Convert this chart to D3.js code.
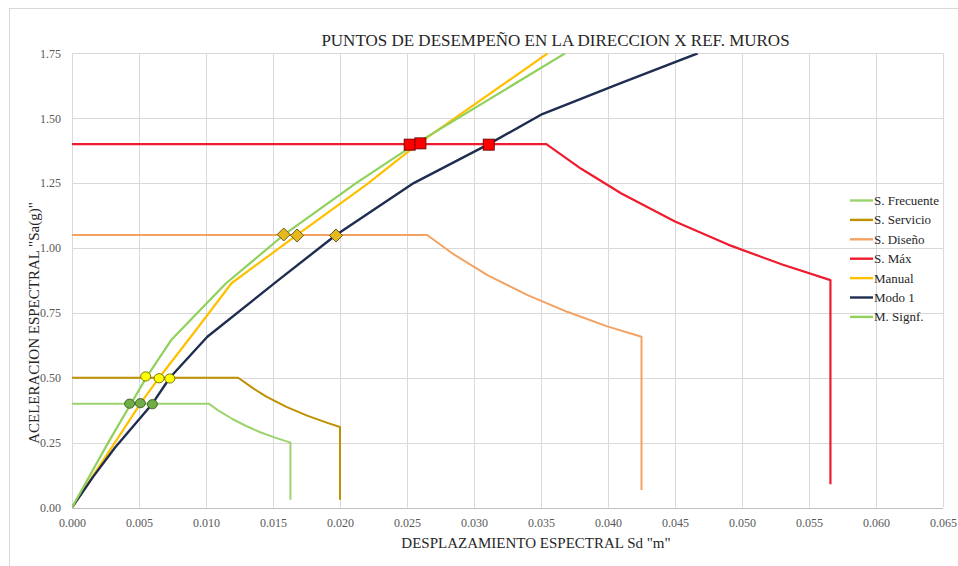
<!DOCTYPE html>
<html><head><meta charset="utf-8">
<script src="https://cdn.jsdelivr.net/npm/d3@7/dist/d3.min.js"></script>
<style>
html,body{margin:0;padding:0;background:#fff;}
svg{display:block;}
svg text{font-family:"Liberation Serif","Times New Roman",serif;}
</style></head>
<body>
<svg id="chart" width="958" height="566"></svg>
<script>
// ---- data (Sd in m, Sa in g) ----
const title = "PUNTOS DE DESEMPEÑO EN LA DIRECCION X REF. MUROS";
const xLabel = "DESPLAZAMIENTO ESPECTRAL Sd \"m\"";
const yLabel = "ACELERACION ESPECTRAL \"Sa(g)\"";
const xTicks = [0,0.005,0.010,0.015,0.020,0.025,0.030,0.035,0.040,0.045,0.050,0.055,0.060,0.065];
const yTicks = [0,0.25,0.50,0.75,1.00,1.25,1.50,1.75];

const sFrecuente = [[0,0.40],[0.0102,0.40],[0.0110,0.371],[0.0120,0.340],[0.0130,0.314],[0.0140,0.291],[0.0150,0.272],[0.0163,0.250],[0.0163,0.03]];
const sServicio  = [[0,0.50],[0.0124,0.50],[0.0135,0.460],[0.0145,0.427],[0.0160,0.388],[0.0175,0.355],[0.0190,0.327],[0.0200,0.310],[0.0200,0.03]];
const sDiseno    = [[0,1.05],[0.0265,1.05],[0.0285,0.975],[0.0310,0.895],[0.0340,0.818],[0.0370,0.753],[0.0400,0.697],[0.0425,0.658],[0.0425,0.067]];
const sMax       = [[0,1.40],[0.0354,1.40],[0.0380,1.305],[0.0410,1.210],[0.0450,1.102],[0.0490,1.012],[0.0530,0.936],[0.0566,0.876],[0.0566,0.09]];
const manual     = [[0,0],[0.0032,0.25],[0.0051,0.40],[0.0065,0.50],[0.0092,0.68],[0.0119,0.864],[0.0168,1.05],[0.0220,1.245],[0.0258,1.40],[0.0355,1.75]];
const modo1      = [[0,0],[0.0016,0.12],[0.0032,0.23],[0.0060,0.40],[0.0073,0.50],[0.0101,0.658],[0.0154,0.876],[0.0197,1.05],[0.0255,1.25],[0.0311,1.40],[0.0351,1.516],[0.0409,1.634],[0.0467,1.75]];
const mSignf     = [[0,0],[0.0027,0.25],[0.0044,0.40],[0.0056,0.505],[0.0074,0.645],[0.0115,0.864],[0.0158,1.05],[0.0212,1.25],[0.0256,1.40],[0.0368,1.75]];

const ptsFrecuente = [[0.0043,0.400],[0.0051,0.402],[0.0060,0.398]];
const ptsServicio  = [[0.0055,0.505],[0.0065,0.498],[0.0073,0.497]];
const ptsDiseno    = [[0.0158,1.052],[0.0168,1.048],[0.0197,1.048]];
const ptsMax       = [[0.0252,1.398],[0.0260,1.403],[0.0311,1.398]];

const seriesNames  = ["S. Frecuente","S. Servicio","S. Diseño","S. Máx","Manual","Modo 1","M. Signf."];
const seriesData   = [sFrecuente,sServicio,sDiseno,sMax,manual,modo1,mSignf];
const seriesColors = ["#9bd36d","#bf9000","#f4a262","#ee1c2e","#ffc000","#1f2d50","#8fd15a"];
const seriesWidths = [2,2,2,2.2,2.2,2.4,2.2];

// ---- layout ----
const FONT = "Liberation Serif";
const svg = d3.select("#chart");
const x = d3.scaleLinear().domain([0,0.065]).range([72,943]);
const y = d3.scaleLinear().domain([0,1.75]).range([507.5,53.3]);

svg.append("rect").attr("x",9.5).attr("y",8.5).attr("width",980).attr("height",600)
  .attr("fill","#fff").attr("stroke","#d9d9d9");

svg.append("defs").append("clipPath").attr("id","clip")
  .append("rect").attr("x",x(0)).attr("y",y(1.75)).attr("width",x(0.065)-x(0)).attr("height",y(0)-y(1.75));

// grid
const grid = svg.append("g");
grid.selectAll(".vg").data(xTicks).join("line")
  .attr("x1",d=>Math.round(x(d))+0.5).attr("x2",d=>Math.round(x(d))+0.5)
  .attr("y1",y(1.75)).attr("y2",y(0)).attr("stroke","#d9d9d9").attr("stroke-width",1);
grid.selectAll(".hg").data(yTicks).join("line")
  .attr("x1",x(0)).attr("x2",x(0.065))
  .attr("y1",d=>Math.round(y(d))+0.5).attr("y2",d=>Math.round(y(d))+0.5)
  .attr("stroke",d=>d===0?"#bfbfbf":"#d9d9d9").attr("stroke-width",1);

// axes labels via d3 axes
const xAxis = d3.axisBottom(x).tickValues(xTicks).tickFormat(d3.format(".3f")).tickSize(0).tickPadding(11);
const yAxis = d3.axisLeft(y).tickValues(yTicks).tickFormat(d3.format(".2f")).tickSize(0).tickPadding(11);
const gx = svg.append("g").attr("transform",`translate(0,${y(0)})`).call(xAxis);
const gy = svg.append("g").attr("transform",`translate(${x(0)},0)`).call(yAxis);
[gx,gy].forEach(g=>{
  g.attr("font-family",null);
  g.select(".domain").remove();
  g.selectAll("text").style("font-family",FONT).attr("font-size",12).attr("fill","#595959");
});

// lines
const line = d3.line().x(d=>x(d[0])).y(d=>y(d[1]));
const plot = svg.append("g").attr("clip-path","url(#clip)");
seriesData.forEach((data,i)=>{
  plot.append("path").datum(data).attr("d",line).attr("fill","none")
    .attr("stroke",seriesColors[i]).attr("stroke-width",seriesWidths[i]).attr("stroke-linejoin","round");
});

// performance points
const mk = svg.append("g");
mk.selectAll(".c1").data(ptsFrecuente).join("ellipse")
  .attr("cx",d=>x(d[0])).attr("cy",d=>y(d[1])).attr("rx",5).attr("ry",4.6)
  .attr("fill","#70ad47").attr("stroke","#3d5a23").attr("stroke-width",0.9);
mk.selectAll(".c2").data(ptsServicio).join("ellipse")
  .attr("cx",d=>x(d[0])).attr("cy",d=>y(d[1])).attr("rx",5).attr("ry",4.6)
  .attr("fill","#ffff00").attr("stroke","#6b6b00").attr("stroke-width",0.9);
mk.selectAll(".d").data(ptsDiseno).join("path")
  .attr("transform",d=>`translate(${x(d[0])},${y(d[1])})`)
  .attr("d","M0,-6.5L6.5,0L0,6.5L-6.5,0Z")
  .attr("fill","#e6b91e").attr("stroke","#5a4a10").attr("stroke-width",0.9);
mk.selectAll(".s").data(ptsMax).join("rect")
  .attr("x",d=>x(d[0])-5.5).attr("y",d=>y(d[1])-5.5).attr("width",11).attr("height",11)
  .attr("fill","#ff0000").attr("stroke","#6b0000").attr("stroke-width",0.9);

// legend
const lg = svg.append("g");
seriesNames.forEach((n,i)=>{
  const yy = 200.5 + i*19.4;
  lg.append("line").attr("x1",850).attr("x2",873).attr("y1",yy).attr("y2",yy)
    .attr("stroke",seriesColors[i]).attr("stroke-width",2.4);
  lg.append("text").attr("x",874).attr("y",yy+4.5).style("font-family",FONT)
    .attr("font-size",13).attr("fill","#262626").text(n);
});

// titles
svg.append("text").attr("x",555.5).attr("y",46).attr("text-anchor","middle").style("font-family",FONT)
  .attr("font-size",17).attr("fill","#262626").text(title);
svg.append("text").attr("x",536).attr("y",548).attr("text-anchor","middle").style("font-family",FONT)
  .attr("font-size",15).attr("fill","#262626").text(xLabel);
svg.append("text").attr("transform","translate(39,323) rotate(-90)").attr("text-anchor","middle").style("font-family",FONT)
  .attr("font-size",15).attr("fill","#262626").text(yLabel);
</script>
</body></html>
